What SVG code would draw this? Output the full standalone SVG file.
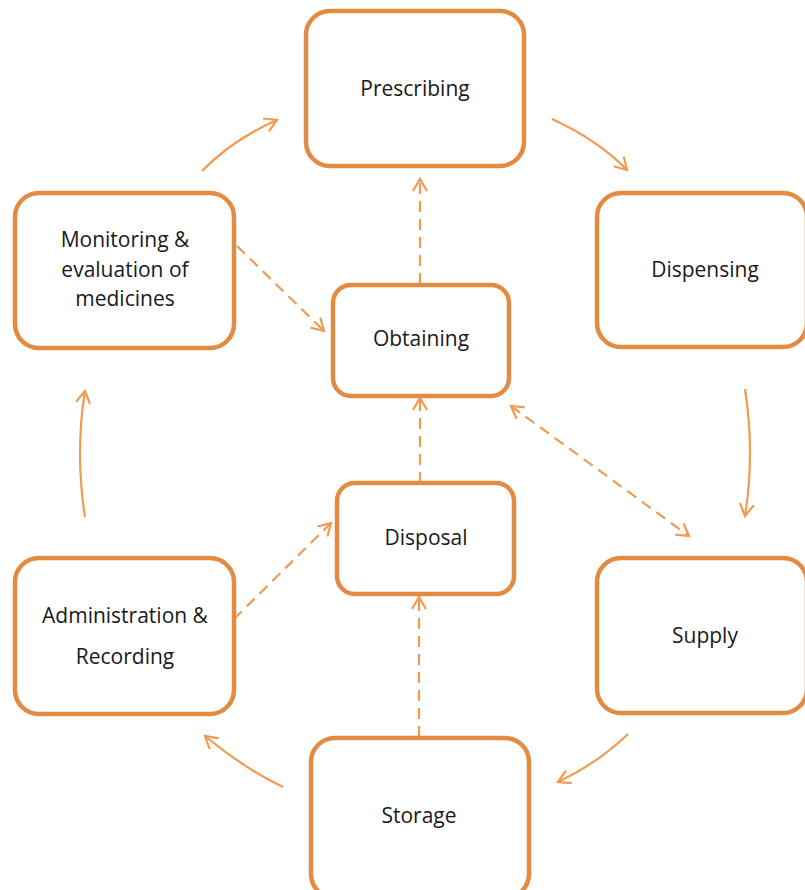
<svg xmlns="http://www.w3.org/2000/svg" width="805" height="890" viewBox="0 0 805 890">
<style>
.box{fill:#fff;stroke:#E38A43;stroke-width:4.5}
.lbl{font-family:"Open Sans","Noto Sans","Liberation Sans",sans-serif;font-size:21px;fill:#1a1a1a;text-anchor:middle}
.arr{fill:none;stroke:#F39A52;stroke-width:2.2}
.dash{stroke-dasharray:11 7}
</style>
<defs>
<marker id="ah" markerUnits="userSpaceOnUse" markerWidth="20" markerHeight="20" viewBox="0 0 20 20" refX="13" refY="8" orient="auto-start-reverse">
<path d="M1,1 L13,8 L1,15" fill="none" stroke="#F39A52" stroke-width="2.2" stroke-dasharray="none"/>
</marker>
</defs>
<rect width="805" height="890" fill="#fff"/>
<g id="connectors">
<path class="arr" d="M202,171 Q232,140 277,120" marker-end="url(#ah)"/>
<path class="arr" d="M552,119 Q598,140 627,170" marker-end="url(#ah)"/>
<path class="arr" d="M745,389 Q755,453 745,516" marker-end="url(#ah)"/>
<path class="arr" d="M628,734 Q598,763 558,782" marker-end="url(#ah)"/>
<path class="arr" d="M283,787 Q242,767 205,736" marker-end="url(#ah)"/>
<path class="arr" d="M85,517 Q75,453 85,391" marker-end="url(#ah)"/>
<path class="arr dash" d="M420,284 L420,179" marker-end="url(#ah)"/>
<path class="arr dash" d="M237,246 L324,331" marker-end="url(#ah)"/>
<path class="arr dash" d="M511,406 L689,536" marker-start="url(#ah)" marker-end="url(#ah)"/>
<path class="arr dash" d="M420,483 L420,398" marker-end="url(#ah)"/>
<path class="arr dash" d="M234,619 L331,523" marker-end="url(#ah)"/>
<path class="arr dash" d="M419,737 L419,597" marker-end="url(#ah)"/>
</g>
<g id="prescribing"><rect class="box" x="306" y="11" width="218" height="155" rx="24"/><text class="lbl" x="415" y="96">Prescribing</text></g>
<g id="dispensing"><rect class="box" x="597" y="193" width="210" height="154" rx="24"/><text class="lbl" x="705" y="277">Dispensing</text></g>
<g id="monitoring"><rect class="box" x="15" y="193" width="219" height="155" rx="24"/><text class="lbl" x="125" y="247">Monitoring &amp;</text><text class="lbl" x="125" y="277">evaluation of</text><text class="lbl" x="125" y="306">medicines</text></g>
<g id="obtaining"><rect class="box" x="333" y="285" width="176" height="111" rx="18"/><text class="lbl" x="421" y="346">Obtaining</text></g>
<g id="disposal"><rect class="box" x="337" y="483" width="177" height="111" rx="18"/><text class="lbl" x="426" y="545">Disposal</text></g>
<g id="administration"><rect class="box" x="15" y="558" width="219" height="156" rx="24"/><text class="lbl" x="125" y="623">Administration &amp;</text><text class="lbl" x="125" y="664">Recording</text></g>
<g id="supply"><rect class="box" x="597" y="558" width="210" height="155" rx="24"/><text class="lbl" x="705" y="643">Supply</text></g>
<g id="storage"><rect class="box" x="311" y="738" width="218" height="160" rx="24"/><text class="lbl" x="419" y="823">Storage</text></g>
</svg>
